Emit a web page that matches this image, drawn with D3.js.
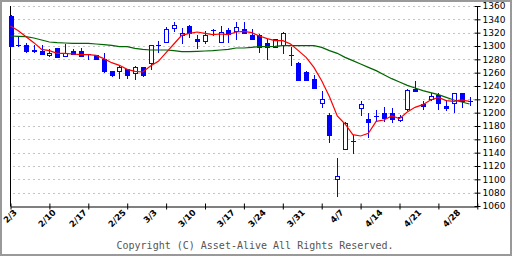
<!DOCTYPE html>
<html>
<head>
<meta charset="utf-8">
<script src="https://cdn.jsdelivr.net/npm/d3@7"></script>
<style>
  body { margin: 0; background: #fff; }
  svg { display: block; }
</style>
</head>
<body>
<script>
// trading days shown on the chart
const dates = ["2/3","2/4","2/5","2/6","2/7","2/10","2/12","2/13","2/14","2/17","2/18","2/19","2/20","2/21","2/25","2/26","2/27","2/28",
  "3/3","3/4","3/5","3/6","3/7","3/10","3/11","3/12","3/13","3/14","3/17","3/18","3/19","3/21","3/24","3/25","3/26","3/27","3/28","3/31",
  "4/1","4/2","4/3","4/4","4/7","4/8","4/9","4/10","4/11","4/14","4/15","4/16","4/17","4/18","4/21","4/22","4/23","4/24","4/25","4/28",
  "4/30","5/1"];

const open  = [1345,1301,1302,1294,1293,1286,1297,1285,1293,1293,1288,1286,1280,1262,1262,1265,1259,1268,1274,1301,
               1306,1327,1316,1330,1311,1308,1324,1306,1324,1323,1325,1317,1317,1304,1299,1301,1286,1275,1261,1250,
               1214,1196,1100,1146,1157,1207,1191,1195,1200,1199,1189,1205,1236,1213,1220,1226,1210,1214,1229,1218];
const high  = [1346,1315,1305,1301,1301,1295,1297,1303,1296,1297,1288,1287,1290,1262,1272,1266,1270,1269,1302,1307,
               1329,1336,1327,1331,1316,1322,1326,1330,1327,1336,1336,1326,1318,1310,1311,1321,1299,1276,1263,1256,
               1233,1200,1132,1186,1166,1218,1199,1204,1209,1207,1196,1235,1247,1218,1229,1229,1219,1229,1230,1223];
const low   = [1300,1300,1291,1291,1288,1285,1283,1285,1288,1285,1280,1280,1261,1255,1252,1252,1251,1255,1265,1291,
               1306,1322,1305,1314,1297,1305,1316,1306,1306,1310,1319,1310,1291,1280,1298,1290,1271,1249,1249,1237,
               1209,1156,1075,1146,1140,1196,1164,1187,1187,1186,1188,1204,1232,1205,1219,1206,1204,1201,1209,1211];
const close = [1300,1301,1292,1292,1288,1290,1284,1289,1288,1285,1288,1281,1262,1257,1268,1257,1268,1256,1301,1301,
               1325,1331,1320,1319,1308,1316,1324,1321,1318,1328,1320,1311,1299,1299,1310,1320,1286,1249,1249,1237,
               1220,1166,1105,1185,1157,1213,1186,1195,1192,1190,1193,1234,1233,1210,1225,1214,1207,1229,1218,1218];

// moving averages (red short, green long)
const maShort = [1330,1323,1314,1305,1295,1293,1289,1289,1288,1287,1287,1286,1281,1275,1271,1265,1262,1261,1270,1277,
                 1290,1303,1316,1319,1321,1319,1317,1318,1317,1321,1322,1320,1315,1311,1308,1308,1303,1293,1283,1268,
                 1248,1224,1195,1183,1167,1165,1169,1187,1189,1195,1191,1201,1208,1212,1219,1223,1218,1217,1219,1217];
const maLong  = [1315,1314.5,1314,1312,1309,1306,1305,1304.5,1304,1304,1304,1303,1302,1301,1299,1299,1296.5,1295,1294,1294,
                 1294,1293,1291.5,1291.5,1292,1292.5,1293,1294,1295,1297,1297,1298,1299,1299,1299.5,1300.5,1300.5,1300.5,1300.5,1300.5,
                 1298,1293,1289,1283,1278,1273,1268,1263,1257,1251,1246,1241,1237,1233,1230,1227,1223,1219,1216,1213];

const yTicks = [1060,1080,1100,1120,1140,1160,1180,1200,1220,1240,1260,1280,1300,1320,1340,1360];
const xLabels = ["2/3","2/10","2/17","2/25","3/3","3/10","3/17","3/24","3/31","4/7","4/14","4/21","4/28"];

const W = 512, H = 256;
const svg = d3.select("body").append("svg").attr("width", W).attr("height", H);

// frame
svg.append("rect").attr("x", 1).attr("y", 1).attr("width", W - 2).attr("height", H - 2)
  .attr("fill", "#fff").attr("stroke", "#999").attr("stroke-width", 2);

const x = d3.scaleLinear().domain([0, 60]).range([10.5, 477.3]);
const y = d3.scaleLinear().domain([1060, 1360]).range([206, 6]);
const px = v => Math.round(x(v)) + 0.5;
const py = v => Math.round(y(v)) + 0.5;

// dashed grid
svg.append("g").selectAll("line").data(yTicks.filter(d => d > 1060)).join("line")
  .attr("x1", 13).attr("x2", 474)
  .attr("y1", d => py(d)).attr("y2", d => py(d))
  .attr("stroke", "#c4c4c4").attr("stroke-dasharray", "2,3");

// left border line
svg.append("line").attr("x1", 10.5).attr("x2", 10.5).attr("y1", 6).attr("y2", 206.5)
  .attr("stroke", "#000");

// bottom axis
const xAxis = svg.append("g").attr("transform", "translate(0,206.5)")
  .call(d3.axisBottom(x).tickValues(d3.range(0, 61, 5)).tickSize(3).tickSizeOuter(0).tickFormat(""));
xAxis.selectAll(".tick line").attr("y1", -3);
xAxis.select(".domain").attr("stroke", "#000");

// right axis
const yAxis = svg.append("g").attr("transform", "translate(477.5,0)")
  .call(d3.axisRight(y).tickValues(yTicks).tickFormat(d3.format("d"))
    .tickSize(3).tickSizeOuter(0).tickPadding(2));
yAxis.selectAll(".tick line").attr("x1", -3);
yAxis.selectAll("text").attr("font-family", "DejaVu Sans").attr("font-size", 9).attr("fill", "#000");
yAxis.select(".domain").attr("d", `M0,${y(1360)}V${y(1060) + 0.5}`);

// x labels
svg.append("g").selectAll("text").data(xLabels).join("text")
  .attr("transform", d => `translate(${x(dates.indexOf(d)) + 7},${213}) rotate(-45)`)
  .attr("text-anchor", "end")
  .attr("font-family", "DejaVu Sans").attr("font-size", 8.5).attr("font-weight", "bold")
  .text(d => d);

// candles
const idx = d3.range(dates.length);
const cg = svg.append("g").attr("shape-rendering", "crispEdges");
cg.selectAll("line.wick").data(idx).join("line").attr("class", "wick")
  .attr("x1", i => px(i)).attr("x2", i => px(i))
  .attr("y1", i => Math.round(y(high[i]))).attr("y2", i => Math.round(y(low[i])) + 1)
  .attr("stroke", "#0000ff");

idx.forEach(i => {
  const o = open[i], c = close[i], cx = Math.round(x(i));
  if (o === c) {
    cg.append("line").attr("x1", cx - 2).attr("x2", cx + 3)
      .attr("y1", py(o)).attr("y2", py(o)).attr("stroke", "#0000ff");
  } else if (c < o) {
    const t = Math.round(y(o)), b = Math.round(y(c));
    cg.append("rect").attr("x", cx - 2).attr("y", t).attr("width", 5).attr("height", Math.max(1, b - t + 1))
      .attr("fill", "#0000ff");
  } else {
    const t = Math.round(y(c)), b = Math.round(y(o));
    cg.append("rect").attr("x", cx - 1.5).attr("y", t + 0.5).attr("width", 4).attr("height", Math.max(1, b - t))
      .attr("fill", "#fff").attr("stroke", "#0000ff");
  }
});

// moving averages
const line = d3.line().x((d, i) => x(i)).y(d => y(d));
svg.append("path").datum(maLong).attr("d", line)
  .attr("fill", "none").attr("stroke", "#006400").attr("stroke-width", 1.2);
svg.append("path").datum(maShort).attr("d", line)
  .attr("fill", "none").attr("stroke", "#ff0000").attr("stroke-width", 1.2);

// copyright
svg.append("text").attr("x", 255).attr("y", 249).attr("text-anchor", "middle")
  .attr("font-family", "DejaVu Sans Mono").attr("font-size", 10).attr("fill", "#555")
  .text("Copyright (C) Asset-Alive All Rights Reserved.");
</script>
</body>
</html>
